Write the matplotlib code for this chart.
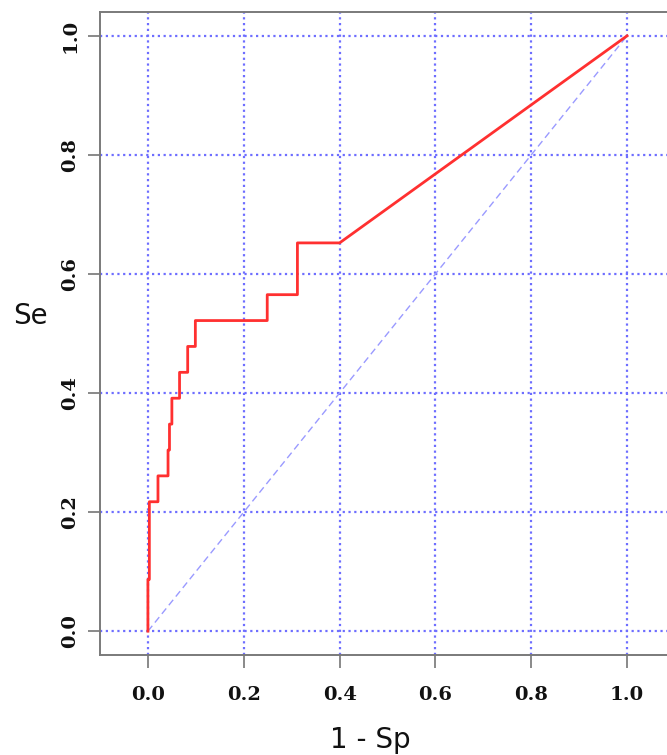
import matplotlib
matplotlib.use("Agg")
import matplotlib.pyplot as plt

# ROC curve points (1 - Specificity, Sensitivity)
fpr = [0.0, 0.0, 0.003, 0.003, 0.021, 0.021, 0.042, 0.042, 0.045, 0.045,
       0.050, 0.050, 0.066, 0.066, 0.083, 0.083, 0.099, 0.099, 0.249, 0.249,
       0.312, 0.312, 0.400, 1.0]
tpr = [0/23, 2/23, 2/23, 5/23, 5/23, 6/23, 6/23, 7/23, 7/23, 8/23,
       8/23, 9/23, 9/23, 10/23, 10/23, 11/23, 11/23, 12/23, 12/23, 13/23,
       13/23, 15/23, 15/23, 1.0]
diag = [0.0, 1.0]
ticks = [0.0, 0.2, 0.4, 0.6, 0.8, 1.0]
tick_labels = ["0.0", "0.2", "0.4", "0.6", "0.8", "1.0"]
xlabel = "1 - Sp"
ylabel = "Se"

W, H = 667, 755
fig = plt.figure(figsize=(W / 100, H / 100), dpi=100)
ax = fig.add_axes([100 / W, 1 - 655 / H, 575 / W, 643 / H])
ax.set_xlim(-0.1, 1.1)
ax.set_ylim(-0.04, 1.04)

grid_color = "#6e6eff"
for t in ticks:
    ax.axvline(t, color=grid_color, lw=1.6, ls=(0, (1, 1.6)), zorder=1)
    ax.axhline(t, color=grid_color, lw=1.6, ls=(0, (1, 1.6)), zorder=1)

ax.plot(diag, diag, color="#9a9aff", lw=1.0, ls=(0, (5, 3)), zorder=2)
ax.plot(fpr, tpr, color="#ff3030", lw=2.0, zorder=3)

ax.set_xticks(ticks)
ax.set_yticks(ticks)
ax.set_xticklabels(tick_labels, family="DejaVu Serif", weight="bold", fontsize=14)
ax.set_yticklabels(tick_labels, family="DejaVu Serif", weight="bold", fontsize=14,
                   rotation=90, va="center")
ax.tick_params(axis="x", direction="out", length=9, width=1.3, color="#808080",
               pad=13, labelcolor="#111111")
ax.tick_params(axis="y", direction="out", length=9, width=1.3, color="#808080",
               pad=6, labelcolor="#111111")
for s in ax.spines.values():
    s.set_color("#7a7a7a")
    s.set_linewidth(1.4)

fig.text(30 / W, 1 - 316 / H, ylabel, fontsize=20, family="DejaVu Sans",
         ha="center", va="center", color="#111111")
fig.text(370 / W, 1 - 740 / H, xlabel, fontsize=20, family="DejaVu Sans",
         ha="center", va="center", color="#111111")

fig.savefig("out.png", dpi=100)
